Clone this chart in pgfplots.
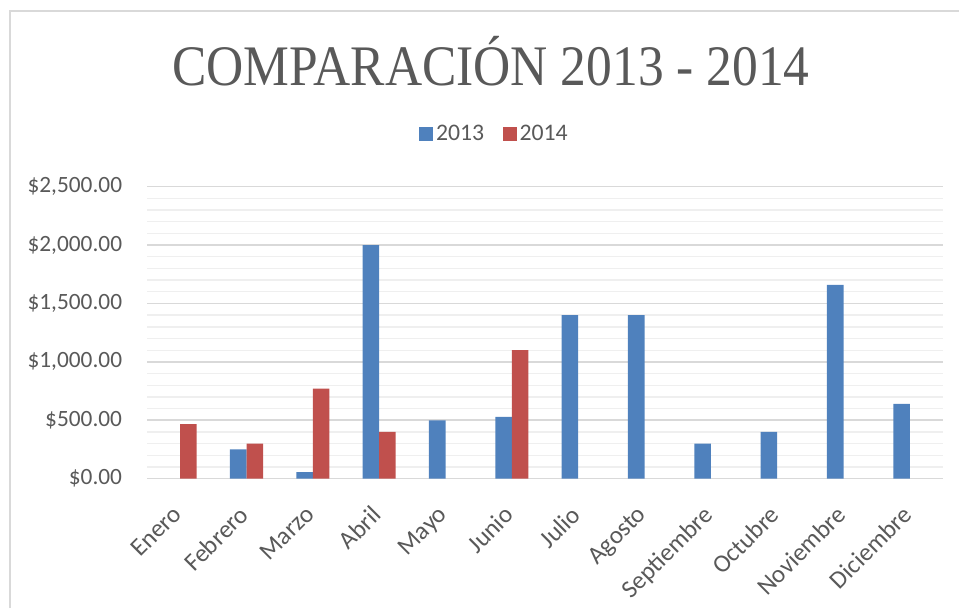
\documentclass[border=0pt]{standalone}
\usepackage{fontspec}
\setmainfont{Carlito}
\newfontfamily\titlefont{Liberation Serif}
\usepackage{pgfplots}
\pgfplotsset{compat=1.18}
\definecolor{blue13}{HTML}{4F81BD}
\definecolor{red14}{HTML}{C0504D}
\definecolor{txt}{HTML}{595959}
\definecolor{majg}{HTML}{D9D9D9}
\definecolor{ming}{HTML}{EFEFEF}
\begin{document}
\begin{tikzpicture}
\useasboundingbox (0,0) rectangle (719.25pt,-456pt);
\draw[majg, line width=1.5pt] (7.5pt,-456pt) -- (7.5pt,-7.9pt) -- (719.25pt,-7.9pt);
\node[anchor=base, text=txt, font=\titlefont\fontsize{43}{50}\selectfont, inner sep=0pt] at (368.25pt,-63.75pt) {\resizebox{478pt}{\height}{COMPARACIÓN 2013 - 2014}};
\begin{axis}[
  at={(110.25pt,-359pt)}, anchor=south west,
  scale only axis, width=597pt, height=219pt,
  ymin=0, ymax=2500, xmin=-0.5, xmax=11.5,
  ybar=0pt, bar width=12.4pt,
  ytick={0,500,...,2500},
  yticklabels={{\$0.00},{\$500.00},{\$1,000.00},{\$1,500.00},{\$2,000.00},{\$2,500.00}},
  minor y tick num=4,
  ymajorgrids, yminorgrids,
  major grid style={majg, line width=1.2pt},
  minor grid style={ming, line width=1pt},
  xtick={0,...,11},
  xticklabels={Enero,Febrero,Marzo,Abril,Mayo,Junio,Julio,Agosto,Septiembre,Octubre,Noviembre,Diciembre},
  axis line style={draw=none},
  major tick length=0pt, minor tick length=0pt,
  tick label style={font=\fontsize{17.5}{21}\selectfont, text=txt},
  yticklabel style={anchor=east, inner sep=0pt, xshift=-18.5pt},
  xticklabel style={font=\fontsize{18.8}{22}\selectfont, yshift=-19pt, xshift=-6.5pt, rotate=45, anchor=north east, inner sep=0pt},
  legend style={at={(0.437,1.18)}, anchor=center, draw=none, fill=none, legend columns=2,
    font=\fontsize{17.8}{21}\selectfont, text=txt,
    /tikz/every even column/.append style={column sep=12pt}},
  legend image code/.code={\fill[#1] (0pt,-5.25pt) rectangle (10.5pt,5.25pt);},
  clip=false,
]
\addplot[fill=blue13, draw=none] coordinates {(1,250) (2,57) (3,2000) (4,500) (5,530) (6,1400) (7,1400) (8,300) (9,400) (10,1660) (11,640)};
\addplot[fill=red14, draw=none] coordinates {(0,467) (1,300) (2,770) (3,400) (5,1100)};
\legend{2013,2014}
\end{axis}
\end{tikzpicture}
\end{document}
